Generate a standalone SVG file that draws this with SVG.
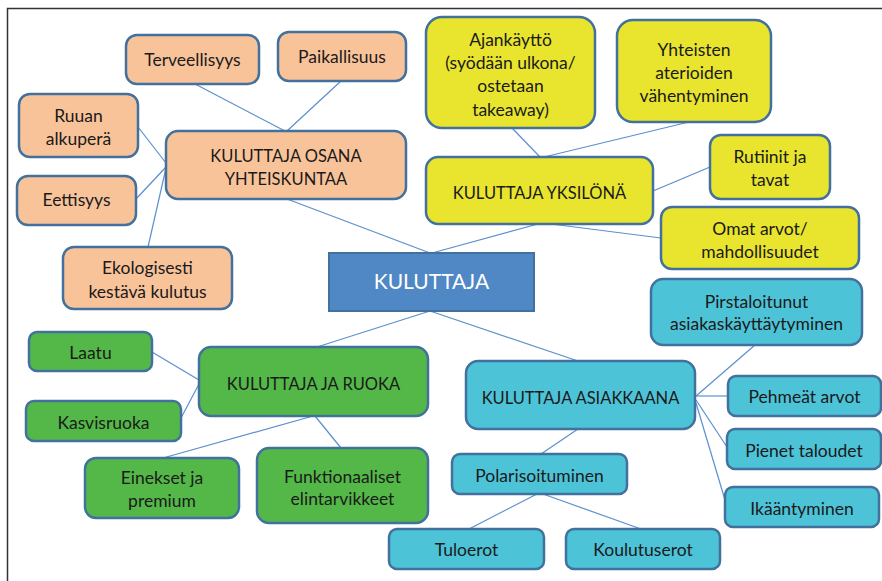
<svg xmlns="http://www.w3.org/2000/svg" width="882" height="581" viewBox="0 0 882 581">
<style>
.n rect{stroke:#41719c;stroke-width:2.5}
.p rect{fill:#f9c39a}
.y rect{fill:#e9e52e}
.g rect{fill:#54b848}
.c rect{fill:#4dc3d8}
text{font-family:Lato,"Liberation Sans",sans-serif;font-size:17.5px;fill:#1a1a1a;text-anchor:middle}
.h text{font-size:16.5px}
#edges line{stroke:#5b8fd0;stroke-width:1.2}
</style>
<rect x="0" y="0" width="882" height="581" fill="#fff"/>
<path d="M7.5 581V8.5H882" fill="none" stroke="#333" stroke-width="1.5"/>
<g id="edges">
<line x1="195" y1="84" x2="285" y2="131"/>
<line x1="341" y1="81" x2="287" y2="131"/>
<line x1="138" y1="127" x2="166" y2="163"/>
<line x1="136" y1="199" x2="166" y2="167"/>
<line x1="148" y1="247" x2="166" y2="168"/>
<line x1="287" y1="199" x2="430" y2="253"/>
<line x1="512" y1="128" x2="540" y2="157"/>
<line x1="689" y1="122" x2="544" y2="157"/>
<line x1="710" y1="167" x2="653" y2="191"/>
<line x1="538" y1="224" x2="432" y2="253"/>
<line x1="551" y1="224" x2="661" y2="238"/>
<line x1="430" y1="311" x2="317" y2="347"/>
<line x1="152" y1="352" x2="199" y2="380"/>
<line x1="181" y1="418" x2="199" y2="384"/>
<line x1="313" y1="416" x2="163" y2="458"/>
<line x1="315" y1="416" x2="341" y2="448"/>
<line x1="430" y1="311" x2="578" y2="361"/>
<line x1="696" y1="396" x2="755" y2="345"/>
<line x1="696" y1="396" x2="728" y2="396"/>
<line x1="696" y1="400" x2="727" y2="447"/>
<line x1="696" y1="403" x2="725" y2="500"/>
<line x1="578" y1="429" x2="541" y2="454"/>
<line x1="537" y1="494" x2="469" y2="529"/>
<line x1="543" y1="494" x2="641" y2="529"/>
</g>
<g id="terveellisyys" class="n p"><rect x="126" y="35" width="133" height="49" rx="11"/><text x="192.5" y="66">Terveellisyys</text></g>
<g id="paikallisuus" class="n p"><rect x="278" y="32" width="128" height="49" rx="11"/><text x="342" y="63">Paikallisuus</text></g>
<g id="ruuan" class="n p"><rect x="19" y="94" width="119" height="63" rx="11"/><text x="78.5" y="122">Ruuan</text><text x="78.5" y="145">alkuperä</text></g>
<g id="osana" class="n p h"><rect x="166" y="131" width="240" height="68" rx="12"/><text x="286" y="162">KULUTTAJA OSANA</text><text x="286" y="185">YHTEISKUNTAA</text></g>
<g id="eettisyys" class="n p"><rect x="17" y="176" width="119" height="49" rx="11"/><text x="76.5" y="206">Eettisyys</text></g>
<g id="ekologisesti" class="n p"><rect x="63" y="247" width="169" height="62" rx="11"/><text x="147.5" y="274">Ekologisesti</text><text x="147.5" y="298">kestävä kulutus</text></g>
<g id="kuluttaja"><rect x="329" y="253" width="205" height="58" fill="#5088c6" stroke="#41719c" stroke-width="2"/><text x="431.5" y="289" style="fill:#fff;font-size:21px">KULUTTAJA</text></g>
<g id="ajankaytto" class="n y"><rect x="426" y="17" width="169" height="111" rx="16"/><text x="510.5" y="46">Ajankäyttö</text><text x="510.5" y="69">(syödään ulkona/</text><text x="510.5" y="92">ostetaan</text><text x="510.5" y="116">takeaway)</text></g>
<g id="yhteisten" class="n y"><rect x="617" y="20" width="154" height="102" rx="16"/><text x="694" y="56">Yhteisten</text><text x="694" y="79">aterioiden</text><text x="694" y="102">vähentyminen</text></g>
<g id="yksilona" class="n y h"><rect x="426" y="157" width="227" height="67" rx="12"/><text x="539.5" y="199">KULUTTAJA YKSILÖNÄ</text></g>
<g id="rutiinit" class="n y"><rect x="710" y="135" width="120" height="64" rx="11"/><text x="770" y="163">Rutiinit ja</text><text x="770" y="186">tavat</text></g>
<g id="omat" class="n y"><rect x="661" y="207" width="198" height="62" rx="11"/><text x="760" y="235">Omat arvot/</text><text x="760" y="258">mahdollisuudet</text></g>
<g id="pirstaloitunut" class="n c"><rect x="651" y="279" width="211" height="66" rx="12"/><text x="756.5" y="308">Pirstaloitunut</text><text x="756.5" y="330">asiakaskäyttäytyminen</text></g>
<g id="asiakkaana" class="n c h"><rect x="466" y="361" width="229" height="68" rx="12"/><text x="580.5" y="404">KULUTTAJA ASIAKKAANA</text></g>
<g id="pehmeat" class="n c"><rect x="728" y="376" width="153" height="40" rx="8"/><text x="804.5" y="403">Pehmeät arvot</text></g>
<g id="pienet" class="n c"><rect x="727" y="429" width="154" height="40" rx="8"/><text x="804" y="457">Pienet taloudet</text></g>
<g id="ikaantyminen" class="n c"><rect x="725" y="487" width="154" height="40" rx="8"/><text x="802" y="515">Ikääntyminen</text></g>
<g id="polarisoituminen" class="n c"><rect x="452" y="454" width="175" height="40" rx="8"/><text x="539.5" y="482">Polarisoituminen</text></g>
<g id="tuloerot" class="n c"><rect x="389" y="529" width="155" height="40" rx="8"/><text x="466.5" y="556">Tuloerot</text></g>
<g id="koulutuserot" class="n c"><rect x="566" y="529" width="154" height="40" rx="8"/><text x="643" y="556">Koulutuserot</text></g>
<g id="laatu" class="n g"><rect x="29" y="332" width="123" height="39" rx="8"/><text x="90.5" y="359">Laatu</text></g>
<g id="ruoka" class="n g h"><rect x="199" y="347" width="229" height="69" rx="12"/><text x="313.5" y="390">KULUTTAJA JA RUOKA</text></g>
<g id="kasvisruoka" class="n g"><rect x="26" y="401" width="155" height="40" rx="8"/><text x="103.5" y="429">Kasvisruoka</text></g>
<g id="einekset" class="n g"><rect x="85" y="458" width="154" height="60" rx="11"/><text x="162" y="484">Einekset ja</text><text x="162" y="507">premium</text></g>
<g id="funktionaaliset" class="n g"><rect x="257" y="448" width="171" height="75" rx="12"/><text x="342.5" y="483">Funktionaaliset</text><text x="342.5" y="505">elintarvikkeet</text></g>
</svg>
